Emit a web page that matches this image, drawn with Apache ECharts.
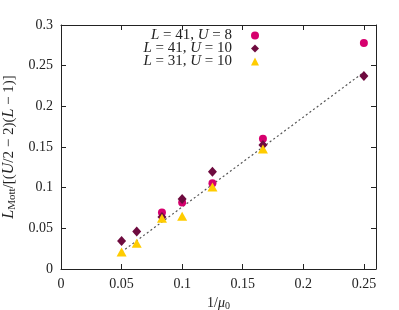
<!DOCTYPE html>
<html>
<head>
<meta charset="utf-8">
<script src="https://cdn.jsdelivr.net/npm/echarts@6/dist/echarts.min.js"></script>
<style>html,body{margin:0;padding:0;background:#fff}#c{width:399px;height:310px}</style>
</head>
<body>
<div id="c"></div>
<script>
var xInv = [0.05, 0.0625, 0.08333, 0.1, 0.125, 0.16667, 0.25];
var l41u8X = [0.08333, 0.1, 0.125, 0.16667, 0.25];
var l41u8Y = [0.0695, 0.0818, 0.1053, 0.160, 0.278];
var l41u10X = [0.05, 0.0625, 0.08333, 0.1, 0.125, 0.16667, 0.25];
var l41u10Y = [0.0345, 0.046, 0.064, 0.086, 0.1197, 0.1525, 0.2373];
var l31u10X = [0.05, 0.0625, 0.08333, 0.1, 0.125, 0.16667];
var l31u10Y = [0.021, 0.0318, 0.0625, 0.065, 0.1008, 0.1475];
var fitX = [0.05, 0.25];
var fitY = [0.021, 0.242];
var xTicks = [0, 0.05, 0.1, 0.15, 0.2, 0.25];
var yTicks = [0, 0.05, 0.1, 0.15, 0.2, 0.25, 0.3];

function pairs(xs, ys){ return xs.map(function(x,i){ return [x, ys[i]]; }); }
var FONT = 'Liberation Serif';
var FS = 14;
var fmt = function(v){ return String(parseFloat(v.toFixed(3))); };

var chart = echarts.init(document.getElementById('c'), null, {renderer:'canvas'});
var axisCommon = {
  axisLine:{show:true, onZero:false, lineStyle:{color:'#222', width:1}},
  axisTick:{show:true, inside:true, length:5, lineStyle:{color:'#222'}},
  splitLine:{show:false}
};
chart.setOption({
  animation:false,
  grid:{left:61, right:23, top:25, bottom:41, outerBoundsMode:'none', containLabel:false},
  legend:{
    right:135, top:23, orient:'vertical', align:'right', itemGap:-2,
    itemWidth:8, itemHeight:8,
    textStyle:{fontFamily:FONT, fontSize:15, color:'#222', padding:[0,14,0,0], lineHeight:13,
      rich:{i:{fontFamily:FONT, fontStyle:'italic', fontSize:15, color:'#222', lineHeight:13}}},
    formatter:function(name){
      var m = name.match(/L=(\d+), U=(\d+)/);
      return '{i|L} = ' + m[1] + ', {i|U} = ' + m[2];
    },
    data:['L=41, U=8','L=41, U=10','L=31, U=10']
  },
  xAxis:[
    Object.assign({type:'value', min:0, max:0.26, interval:0.05, position:'bottom',
      name:'{a|1/}{b|μ}{s|0}', nameLocation:'middle', nameGap:25,
      nameTextStyle:{fontFamily:FONT, fontSize:FS, color:'#222',
        rich:{a:{fontFamily:FONT,fontSize:FS,color:'#222'},
              b:{fontFamily:FONT,fontStyle:'italic',fontSize:FS,color:'#222'},
              s:{fontFamily:FONT,fontSize:10,color:'#222',verticalAlign:'bottom',padding:[6,0,0,0]}}},
      axisLabel:{fontFamily:FONT, fontSize:FS, color:'#222', margin:8, formatter:fmt,
        showMaxLabel:false}}, axisCommon),
    Object.assign({type:'value', min:0, max:0.26, interval:0.05, position:'top',
      axisLabel:{show:false}}, axisCommon)
  ],
  yAxis:[
    Object.assign({type:'value', min:0, max:0.3, interval:0.05, position:'left',
      name:'{i|L}{s|Mott}/[({i|U}/2 − 2)({i|L} − 1)]', nameLocation:'middle', nameGap:43, nameRotate:90,
      nameTextStyle:{fontFamily:FONT, fontSize:15, color:'#222',
        rich:{i:{fontFamily:FONT,fontStyle:'italic',fontSize:16,color:'#222'},
              s:{fontFamily:FONT,fontSize:11,color:'#222',verticalAlign:'bottom',padding:[7,0,0,0]}}},
      axisLabel:{fontFamily:FONT, fontSize:FS, color:'#222', margin:8, formatter:fmt}}, axisCommon),
    Object.assign({type:'value', min:0, max:0.3, interval:0.05, position:'right',
      axisLabel:{show:false}}, axisCommon)
  ],
  series:[
    {type:'line', data:pairs(fitX, fitY), symbol:'none', silent:true,
      lineStyle:{color:'#555', width:1.2, type:[2,2.5]}, z:1},
    {name:'L=41, U=8', type:'scatter', data:pairs(l41u8X, l41u8Y), symbol:'circle', symbolSize:8,
      itemStyle:{color:'#d6006e', opacity:1}, z:3},
    {name:'L=41, U=10', type:'scatter', data:pairs(l41u10X, l41u10Y), symbol:'diamond', symbolSize:[9,10],
      itemStyle:{color:'#6e0b3f', opacity:1}, z:4},
    {name:'L=31, U=10', type:'scatter', data:pairs(l31u10X, l31u10Y), symbol:'triangle', symbolSize:[10,9],
      itemStyle:{color:'#ffcc00', opacity:1}, z:5}
  ]
});
</script>
</body>
</html>
